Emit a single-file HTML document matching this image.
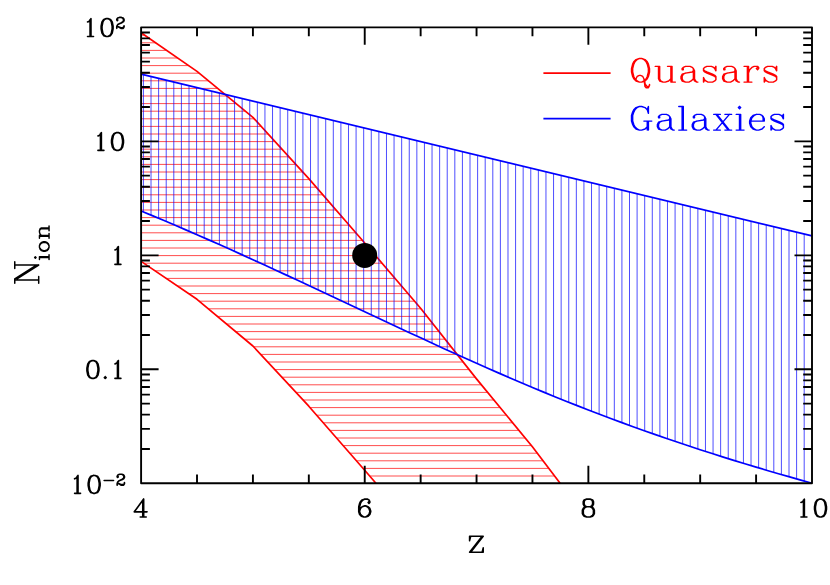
<!DOCTYPE html>
<html><head><meta charset="utf-8"><title>N_ion vs z</title>
<style>html,body{margin:0;padding:0;background:#fff;}body{width:830px;height:585px;overflow:hidden;}svg{display:block;}</style></head><body>
<svg width="830" height="585" viewBox="0 0 830 585">
<rect x="0" y="0" width="830" height="585" fill="#fff"/>
<defs>
<clipPath id="cr"><polygon points="141.1,32.7 197,71.4 252.9,117.4 308.8,178.6 364.7,243 420.6,308.2 476.5,378.9 532.4,446.7 560.1,483.3 375.95,483.3 364.7,470.2 308.8,406.2 252.9,346 197,299.3 141.1,261.4"/></clipPath>
<clipPath id="cb"><polygon points="141.1,74.1 812,235.9 812,483.2 800.82,480.09 789.64,476.93 778.45,473.72 767.27,470.45 756.09,467.14 744.91,463.77 733.73,460.34 722.55,456.85 711.37,453.31 700.18,449.7 689,446.03 677.82,442.3 666.64,438.5 655.46,434.64 644.27,430.71 633.09,426.71 621.91,422.64 610.73,418.5 599.55,414.29 588.37,410 577.19,405.64 566,401.2 554.82,396.69 543.64,392.11 532.46,387.46 521.28,382.75 510.1,377.98 498.91,373.14 487.73,368.25 476.55,363.3 465.37,358.3 454.19,353.24 443,348.15 431.82,343.01 420.64,337.84 409.46,332.65 398.28,327.43 387.1,322.2 375.91,316.95 364.73,311.7 353.55,306.45 342.37,301.2 331.19,295.95 320.01,290.72 308.82,285.5 297.64,280.29 286.46,275.11 275.28,269.94 264.1,264.81 252.92,259.7 241.74,254.63 230.55,249.59 219.37,244.59 208.19,239.64 197.01,234.73 185.83,229.87 174.64,225.06 163.46,220.31 152.28,215.63 141.1,211"/></clipPath>
</defs>
<g clip-path="url(#cr)" stroke="#ff0000" stroke-width="0.7" fill="none">
<path d="M141.1 35.2H812 M141.1 42.8H812 M141.1 50.4H812 M141.1 58H812 M141.1 65.6H812 M141.1 73.2H812 M141.1 80.8H812 M141.1 88.4H812 M141.1 96H812 M141.1 103.6H812 M141.1 111.2H812 M141.1 118.8H812 M141.1 126.4H812 M141.1 134H812 M141.1 141.6H812 M141.1 149.2H812 M141.1 156.8H812 M141.1 164.4H812 M141.1 172H812 M141.1 179.6H812 M141.1 187.2H812 M141.1 194.8H812 M141.1 202.4H812 M141.1 210H812 M141.1 217.6H812 M141.1 225.2H812 M141.1 232.8H812 M141.1 240.4H812 M141.1 248H812 M141.1 255.6H812 M141.1 263.2H812 M141.1 270.8H812 M141.1 278.4H812 M141.1 286H812 M141.1 293.6H812 M141.1 301.2H812 M141.1 308.8H812 M141.1 316.4H812 M141.1 324H812 M141.1 331.6H812 M141.1 339.2H812 M141.1 346.8H812 M141.1 354.4H812 M141.1 362H812 M141.1 369.6H812 M141.1 377.2H812 M141.1 384.8H812 M141.1 392.4H812 M141.1 400H812 M141.1 407.6H812 M141.1 415.2H812 M141.1 422.8H812 M141.1 430.4H812 M141.1 438H812 M141.1 445.6H812 M141.1 453.2H812 M141.1 460.8H812 M141.1 468.4H812 M141.1 476H812"/>
</g>
<g fill="none" stroke="#ff0000" stroke-width="1.7" stroke-linejoin="round">
<polyline points="141.1,32.7 197,71.4 252.9,117.4 308.8,178.6 364.7,243 420.6,308.2 476.5,378.9 532.4,446.7 560.1,483.3"/>
<polyline points="141.1,261.4 197,299.3 252.9,346 308.8,406.2 364.7,470.2 375.95,483.3"/>
</g>
<g clip-path="url(#cb)" stroke="#0000ff" stroke-width="0.7" fill="none">
<path d="M143.43 27.35V483.3 M151.02 27.35V483.3 M158.62 27.35V483.3 M166.21 27.35V483.3 M173.81 27.35V483.3 M181.4 27.35V483.3 M189 27.35V483.3 M196.59 27.35V483.3 M204.19 27.35V483.3 M211.78 27.35V483.3 M219.38 27.35V483.3 M226.97 27.35V483.3 M234.57 27.35V483.3 M242.16 27.35V483.3 M249.75 27.35V483.3 M257.35 27.35V483.3 M264.95 27.35V483.3 M272.54 27.35V483.3 M280.13 27.35V483.3 M287.73 27.35V483.3 M295.32 27.35V483.3 M302.92 27.35V483.3 M310.52 27.35V483.3 M318.11 27.35V483.3 M325.71 27.35V483.3 M333.3 27.35V483.3 M340.9 27.35V483.3 M348.49 27.35V483.3 M356.09 27.35V483.3 M363.68 27.35V483.3 M371.28 27.35V483.3 M378.87 27.35V483.3 M386.47 27.35V483.3 M394.06 27.35V483.3 M401.66 27.35V483.3 M409.25 27.35V483.3 M416.85 27.35V483.3 M424.44 27.35V483.3 M432.04 27.35V483.3 M439.63 27.35V483.3 M447.23 27.35V483.3 M454.82 27.35V483.3 M462.42 27.35V483.3 M470.01 27.35V483.3 M477.61 27.35V483.3 M485.2 27.35V483.3 M492.8 27.35V483.3 M500.39 27.35V483.3 M507.99 27.35V483.3 M515.58 27.35V483.3 M523.17 27.35V483.3 M530.77 27.35V483.3 M538.37 27.35V483.3 M545.96 27.35V483.3 M553.56 27.35V483.3 M561.15 27.35V483.3 M568.75 27.35V483.3 M576.34 27.35V483.3 M583.93 27.35V483.3 M591.53 27.35V483.3 M599.12 27.35V483.3 M606.72 27.35V483.3 M614.32 27.35V483.3 M621.91 27.35V483.3 M629.5 27.35V483.3 M637.1 27.35V483.3 M644.69 27.35V483.3 M652.29 27.35V483.3 M659.88 27.35V483.3 M667.48 27.35V483.3 M675.08 27.35V483.3 M682.67 27.35V483.3 M690.26 27.35V483.3 M697.86 27.35V483.3 M705.46 27.35V483.3 M713.05 27.35V483.3 M720.64 27.35V483.3 M728.24 27.35V483.3 M735.84 27.35V483.3 M743.43 27.35V483.3 M751.02 27.35V483.3 M758.62 27.35V483.3 M766.22 27.35V483.3 M773.81 27.35V483.3 M781.4 27.35V483.3 M789 27.35V483.3 M796.6 27.35V483.3 M804.19 27.35V483.3"/>
</g>
<g fill="none" stroke="#0000ff" stroke-width="1.7" stroke-linejoin="round">
<polyline points="141.1,74.1 812,235.9"/>
<polyline points="141.1,211 152.28,215.63 163.46,220.31 174.64,225.06 185.83,229.87 197.01,234.73 208.19,239.64 219.37,244.59 230.55,249.59 241.74,254.63 252.92,259.7 264.1,264.81 275.28,269.94 286.46,275.11 297.64,280.29 308.82,285.5 320.01,290.72 331.19,295.95 342.37,301.2 353.55,306.45 364.73,311.7 375.91,316.95 387.1,322.2 398.28,327.43 409.46,332.65 420.64,337.84 431.82,343.01 443,348.15 454.19,353.24 465.37,358.3 476.55,363.3 487.73,368.25 498.91,373.14 510.1,377.98 521.28,382.75 532.46,387.46 543.64,392.11 554.82,396.69 566,401.2 577.19,405.64 588.37,410 599.55,414.29 610.73,418.5 621.91,422.64 633.09,426.71 644.27,430.71 655.46,434.64 666.64,438.5 677.82,442.3 689,446.03 700.18,449.7 711.37,453.31 722.55,456.85 733.73,460.34 744.91,463.77 756.09,467.14 767.27,470.45 778.45,473.72 789.64,476.93 800.82,480.09 812,483.2"/>
</g>
<circle cx="364.7" cy="255.4" r="12.5" fill="#000"/>
<path d="M197.01 483.3v-8.8M197.01 27.35v8.8M252.92 483.3v-8.8M252.92 27.35v8.8M308.82 483.3v-8.8M308.82 27.35v8.8M364.73 483.3v-17.5M364.73 27.35v17.5M420.64 483.3v-8.8M420.64 27.35v8.8M476.55 483.3v-8.8M476.55 27.35v8.8M532.46 483.3v-8.8M532.46 27.35v8.8M588.37 483.3v-17.5M588.37 27.35v17.5M644.27 483.3v-8.8M644.27 27.35v8.8M700.18 483.3v-8.8M700.18 27.35v8.8M756.09 483.3v-8.8M756.09 27.35v8.8M141.1 448.99h8.8M812 448.99h-8.8M141.1 428.91h8.8M812 428.91h-8.8M141.1 414.67h8.8M812 414.67h-8.8M141.1 403.63h8.8M812 403.63h-8.8M141.1 394.6h8.8M812 394.6h-8.8M141.1 386.97h8.8M812 386.97h-8.8M141.1 380.36h8.8M812 380.36h-8.8M141.1 374.53h8.8M812 374.53h-8.8M141.1 369.31h17.5M812 369.31h-17.5M141.1 335h8.8M812 335h-8.8M141.1 314.93h8.8M812 314.93h-8.8M141.1 300.69h8.8M812 300.69h-8.8M141.1 289.64h8.8M812 289.64h-8.8M141.1 280.61h8.8M812 280.61h-8.8M141.1 272.98h8.8M812 272.98h-8.8M141.1 266.37h8.8M812 266.37h-8.8M141.1 260.54h8.8M812 260.54h-8.8M141.1 255.33h17.5M812 255.33h-17.5M141.1 221.01h8.8M812 221.01h-8.8M141.1 200.94h8.8M812 200.94h-8.8M141.1 186.7h8.8M812 186.7h-8.8M141.1 175.65h8.8M812 175.65h-8.8M141.1 166.63h8.8M812 166.63h-8.8M141.1 158.99h8.8M812 158.99h-8.8M141.1 152.38h8.8M812 152.38h-8.8M141.1 146.55h8.8M812 146.55h-8.8M141.1 141.34h17.5M812 141.34h-17.5M141.1 107.02h8.8M812 107.02h-8.8M141.1 86.95h8.8M812 86.95h-8.8M141.1 72.71h8.8M812 72.71h-8.8M141.1 61.66h8.8M812 61.66h-8.8M141.1 52.64h8.8M812 52.64h-8.8M141.1 45.01h8.8M812 45.01h-8.8M141.1 38.4h8.8M812 38.4h-8.8M141.1 32.57h8.8M812 32.57h-8.8" stroke="#000" stroke-width="1.9" fill="none"/>
<rect x="141.1" y="27.35" width="670.9" height="455.95" fill="none" stroke="#000" stroke-width="1.9" stroke-linejoin="round"/>
<path d="M543.4 73.1H610.6" stroke="#ff0000" stroke-width="1.8"/>
<path d="M543.4 118.7H610.6" stroke="#0000ff" stroke-width="1.8"/>
<path d="M639.4 58.47L636.02 59.6L633.77 61.85L632.65 64.1L631.52 68.6L631.52 71.97L632.65 76.47L633.77 78.72L636.02 80.97L639.4 82.1L641.65 82.1L645.02 80.97L647.27 78.72L648.4 76.47L649.52 71.97L649.52 68.6L648.4 64.1L647.27 61.85L645.02 59.6L641.65 58.47L639.4 58.47M639.4 58.47L637.15 59.6L634.9 61.85L633.77 64.1L632.65 68.6L632.65 71.97L633.77 76.47L634.9 78.72L637.15 80.97L639.4 82.1M641.65 82.1L643.9 80.97L646.15 78.72L647.27 76.47L648.4 71.97L648.4 68.6L647.27 64.1L646.15 61.85L643.9 59.6L641.65 58.47M636.02 79.85L636.02 78.72L637.15 76.47L639.4 75.35L640.52 75.35L642.77 76.47L643.9 78.72L645.02 86.6L646.15 87.72L648.4 87.72L649.52 85.47L649.52 84.35M643.9 78.72L645.02 83.22L646.15 85.47L647.27 86.6L648.4 86.6L649.52 85.47M658.52 66.35L658.52 78.72L659.65 80.97L663.02 82.1L665.27 82.1L668.65 80.97L670.9 78.72M659.65 66.35L659.65 78.72L660.77 80.97L663.02 82.1M670.9 66.35L670.9 82.1M672.02 66.35L672.02 82.1M655.15 66.35L659.65 66.35M667.52 66.35L672.02 66.35M670.9 82.1L675.4 82.1M683.27 68.6L683.27 69.72L682.15 69.72L682.15 68.6L683.27 67.47L685.52 66.35L690.02 66.35L692.27 67.47L693.4 68.6L694.52 70.85L694.52 78.72L695.65 80.97L696.77 82.1M693.4 68.6L693.4 78.72L694.52 80.97L696.77 82.1L697.9 82.1M693.4 70.85L692.27 71.97L685.52 73.1L682.15 74.22L681.02 76.47L681.02 78.72L682.15 80.97L685.52 82.1L688.9 82.1L691.15 80.97L693.4 78.72M685.52 73.1L683.27 74.22L682.15 76.47L682.15 78.72L683.27 80.97L685.52 82.1M714.77 68.6L715.9 66.35L715.9 70.85L714.77 68.6L713.65 67.47L711.4 66.35L706.9 66.35L704.65 67.47L703.52 68.6L703.52 70.85L704.65 71.97L706.9 73.1L712.52 75.35L714.77 76.47L715.9 77.6M703.52 69.72L704.65 70.85L706.9 71.97L712.52 74.22L714.77 75.35L715.9 76.47L715.9 79.85L714.77 80.97L712.52 82.1L708.02 82.1L705.77 80.97L704.65 79.85L703.52 77.6L703.52 82.1L704.65 79.85M724.9 68.6L724.9 69.72L723.77 69.72L723.77 68.6L724.9 67.47L727.15 66.35L731.65 66.35L733.9 67.47L735.02 68.6L736.15 70.85L736.15 78.72L737.27 80.97L738.4 82.1M735.02 68.6L735.02 78.72L736.15 80.97L738.4 82.1L739.52 82.1M735.02 70.85L733.9 71.97L727.15 73.1L723.77 74.22L722.65 76.47L722.65 78.72L723.77 80.97L727.15 82.1L730.52 82.1L732.77 80.97L735.02 78.72M727.15 73.1L724.9 74.22L723.77 76.47L723.77 78.72L724.9 80.97L727.15 82.1M747.4 66.35L747.4 82.1M748.52 66.35L748.52 82.1M748.52 73.1L749.65 69.72L751.9 67.47L754.15 66.35L757.52 66.35L758.65 67.47L758.65 68.6L757.52 69.72L756.4 68.6L757.52 67.47M744.02 66.35L748.52 66.35M744.02 82.1L751.9 82.1M775.52 68.6L776.65 66.35L776.65 70.85L775.52 68.6L774.4 67.47L772.15 66.35L767.65 66.35L765.4 67.47L764.27 68.6L764.27 70.85L765.4 71.97L767.65 73.1L773.27 75.35L775.52 76.47L776.65 77.6M764.27 69.72L765.4 70.85L767.65 71.97L773.27 74.22L775.52 75.35L776.65 76.47L776.65 79.85L775.52 80.97L773.27 82.1L768.77 82.1L766.52 80.97L765.4 79.85L764.27 77.6L764.27 82.1L765.4 79.85" fill="none" stroke="#ff0000" stroke-width="1.45" stroke-linecap="round" stroke-linejoin="round"/>
<path d="M647.27 109.85L648.4 113.22L648.4 106.47L647.27 109.85L645.02 107.6L641.65 106.47L639.4 106.47L636.02 107.6L633.77 109.85L632.65 112.1L631.52 115.47L631.52 121.1L632.65 124.47L633.77 126.72L636.02 128.97L639.4 130.1L641.65 130.1L645.02 128.97L647.27 126.72M639.4 106.47L637.15 107.6L634.9 109.85L633.77 112.1L632.65 115.47L632.65 121.1L633.77 124.47L634.9 126.72L637.15 128.97L639.4 130.1M647.27 121.1L647.27 130.1M648.4 121.1L648.4 130.1M643.9 121.1L651.77 121.1M659.65 116.6L659.65 117.72L658.52 117.72L658.52 116.6L659.65 115.47L661.9 114.35L666.4 114.35L668.65 115.47L669.77 116.6L670.9 118.85L670.9 126.72L672.02 128.97L673.15 130.1M669.77 116.6L669.77 126.72L670.9 128.97L673.15 130.1L674.27 130.1M669.77 118.85L668.65 119.97L661.9 121.1L658.52 122.22L657.4 124.47L657.4 126.72L658.52 128.97L661.9 130.1L665.27 130.1L667.52 128.97L669.77 126.72M661.9 121.1L659.65 122.22L658.52 124.47L658.52 126.72L659.65 128.97L661.9 130.1M682.15 106.47L682.15 130.1M683.27 106.47L683.27 130.1M678.77 106.47L683.27 106.47M678.77 130.1L686.65 130.1M694.52 116.6L694.52 117.72L693.4 117.72L693.4 116.6L694.52 115.47L696.77 114.35L701.27 114.35L703.52 115.47L704.65 116.6L705.77 118.85L705.77 126.72L706.9 128.97L708.02 130.1M704.65 116.6L704.65 126.72L705.77 128.97L708.02 130.1L709.15 130.1M704.65 118.85L703.52 119.97L696.77 121.1L693.4 122.22L692.27 124.47L692.27 126.72L693.4 128.97L696.77 130.1L700.15 130.1L702.4 128.97L704.65 126.72M696.77 121.1L694.52 122.22L693.4 124.47L693.4 126.72L694.52 128.97L696.77 130.1M715.9 114.35L728.27 130.1M717.02 114.35L729.4 130.1M729.4 114.35L715.9 130.1M713.65 114.35L720.4 114.35M724.9 114.35L731.65 114.35M713.65 130.1L720.4 130.1M724.9 130.1L731.65 130.1M739.52 106.47L738.4 107.6L739.52 108.72L740.65 107.6L739.52 106.47M739.52 114.35L739.52 130.1M740.65 114.35L740.65 130.1M736.15 114.35L740.65 114.35M736.15 130.1L744.02 130.1M750.77 121.1L764.27 121.1L764.27 118.85L763.15 116.6L762.02 115.47L759.77 114.35L756.4 114.35L753.02 115.47L750.77 117.72L749.65 121.1L749.65 123.35L750.77 126.72L753.02 128.97L756.4 130.1L758.65 130.1L762.02 128.97L764.27 126.72M763.15 121.1L763.15 117.72L762.02 115.47M756.4 114.35L754.15 115.47L751.9 117.72L750.77 121.1L750.77 123.35L751.9 126.72L754.15 128.97L756.4 130.1M782.27 116.6L783.4 114.35L783.4 118.85L782.27 116.6L781.15 115.47L778.9 114.35L774.4 114.35L772.15 115.47L771.02 116.6L771.02 118.85L772.15 119.97L774.4 121.1L780.02 123.35L782.27 124.47L783.4 125.6M771.02 117.72L772.15 118.85L774.4 119.97L780.02 122.22L782.27 123.35L783.4 124.47L783.4 127.85L782.27 128.97L780.02 130.1L775.52 130.1L773.27 128.97L772.15 127.85L771.02 125.6L771.02 130.1L772.15 127.85" fill="none" stroke="#0000ff" stroke-width="1.45" stroke-linecap="round" stroke-linejoin="round"/>
<path d="M117.28 19.51L117.8 20.03L117.28 20.55L116.76 20.03L116.76 19.51L117.28 18.47L117.8 17.95L119.36 17.43L121.44 17.43L123 17.95L123.52 18.47L124.04 19.51L124.04 20.55L123.52 21.59L121.96 22.63L119.36 23.67L118.32 24.19L117.28 25.23L116.76 26.79L116.76 28.35M121.44 17.43L122.48 17.95L123 18.47L123.52 19.51L123.52 20.55L123 21.59L121.44 22.63L119.36 23.67M116.76 27.31L117.28 26.79L118.32 26.79L120.92 27.83L122.48 27.83L123.52 27.31L124.04 26.79M118.32 26.79L120.92 28.35L123 28.35L123.52 27.83L124.04 26.79L124.04 25.75M87.55 22L89.25 21.15L90.95 18.6L90.95 36.45M90.1 19.45L90.1 36.45M87.55 36.45L93.5 36.45M106.25 18.6L103.7 19.45L102 22L101.15 26.25L101.15 28.8L102 33.05L103.7 35.6L106.25 36.45L107.95 36.45L110.5 35.6L112.2 33.05L113.05 28.8L113.05 26.25L112.2 22L110.5 19.45L107.95 18.6L106.25 18.6M106.25 18.6L104.55 19.45L103.7 20.3L102.85 22L102 26.25L102 28.8L102.85 33.05L103.7 34.75L104.55 35.6L106.25 36.45M107.95 36.45L109.65 35.6L110.5 34.75L111.35 33.05L112.2 28.8L112.2 26.25L111.35 22L110.5 20.3L109.65 19.45L107.95 18.6M97.95 135.99L99.65 135.14L101.35 132.59L101.35 150.44M100.5 133.44L100.5 150.44M97.95 150.44L103.9 150.44M116.65 132.59L114.1 133.44L112.4 135.99L111.55 140.24L111.55 142.79L112.4 147.04L114.1 149.59L116.65 150.44L118.35 150.44L120.9 149.59L122.6 147.04L123.45 142.79L123.45 140.24L122.6 135.99L120.9 133.44L118.35 132.59L116.65 132.59M116.65 132.59L114.95 133.44L114.1 134.29L113.25 135.99L112.4 140.24L112.4 142.79L113.25 147.04L114.1 148.74L114.95 149.59L116.65 150.44M118.35 150.44L120.05 149.59L120.9 148.74L121.75 147.04L122.6 142.79L122.6 140.24L121.75 135.99L120.9 134.29L120.05 133.44L118.35 132.59M114.95 249.98L116.65 249.12L118.35 246.58L118.35 264.43M117.5 247.43L117.5 264.43M114.95 264.43L120.9 264.43M92.05 360.56L89.5 361.41L87.8 363.96L86.95 368.21L86.95 370.76L87.8 375.01L89.5 377.56L92.05 378.41L93.75 378.41L96.3 377.56L98 375.01L98.85 370.76L98.85 368.21L98 363.96L96.3 361.41L93.75 360.56L92.05 360.56M92.05 360.56L90.35 361.41L89.5 362.26L88.65 363.96L87.8 368.21L87.8 370.76L88.65 375.01L89.5 376.71L90.35 377.56L92.05 378.41M93.75 378.41L95.45 377.56L96.3 376.71L97.15 375.01L98 370.76L98 368.21L97.15 363.96L96.3 362.26L95.45 361.41L93.75 360.56M105.25 376.71L104.4 377.56L105.25 378.41L106.1 377.56L105.25 376.71M114.95 363.96L116.65 363.11L118.35 360.56L118.35 378.41M117.5 361.41L117.5 378.41M114.95 378.41L120.9 378.41M104.16 480.52L113.52 480.52M117.68 476.36L118.2 476.88L117.68 477.4L117.16 476.88L117.16 476.36L117.68 475.32L118.2 474.8L119.76 474.28L121.84 474.28L123.4 474.8L123.92 475.32L124.44 476.36L124.44 477.4L123.92 478.44L122.36 479.48L119.76 480.52L118.72 481.04L117.68 482.08L117.16 483.64L117.16 485.2M121.84 474.28L122.88 474.8L123.4 475.32L123.92 476.36L123.92 477.4L123.4 478.44L121.84 479.48L119.76 480.52M117.16 484.16L117.68 483.64L118.72 483.64L121.32 484.68L122.88 484.68L123.92 484.16L124.44 483.64M118.72 483.64L121.32 485.2L123.4 485.2L123.92 484.68L124.44 483.64L124.44 482.6M74.6 478.85L76.3 478L78 475.45L78 493.3M77.15 476.3L77.15 493.3M74.6 493.3L80.55 493.3M93.3 475.45L90.75 476.3L89.05 478.85L88.2 483.1L88.2 485.65L89.05 489.9L90.75 492.45L93.3 493.3L95 493.3L97.55 492.45L99.25 489.9L100.1 485.65L100.1 483.1L99.25 478.85L97.55 476.3L95 475.45L93.3 475.45M93.3 475.45L91.6 476.3L90.75 477.15L89.9 478.85L89.05 483.1L89.05 485.65L89.9 489.9L90.75 491.6L91.6 492.45L93.3 493.3M95 493.3L96.7 492.45L97.55 491.6L98.4 489.9L99.25 485.65L99.25 483.1L98.4 478.85L97.55 477.15L96.7 476.3L95 475.45M142.8 500.8L142.8 516.95M143.65 499.1L143.65 516.95M143.65 499.1L134.3 511.85L147.05 511.85M140.25 516.95L146.2 516.95M368.98 501.65L368.13 502.5L368.98 503.35L369.83 502.5L369.83 501.65L368.98 499.95L367.28 499.1L364.73 499.1L362.18 499.95L360.48 501.65L359.63 503.35L358.78 506.75L358.78 511.85L359.63 514.4L361.33 516.1L363.88 516.95L365.58 516.95L368.13 516.1L369.83 514.4L370.68 511.85L370.68 511L369.83 508.45L368.13 506.75L365.58 505.9L364.73 505.9L362.18 506.75L360.48 508.45L359.63 511M364.73 499.1L363.03 499.95L361.33 501.65L360.48 503.35L359.63 506.75L359.63 511.85L360.48 514.4L362.18 516.1L363.88 516.95M365.58 516.95L367.28 516.1L368.98 514.4L369.83 511.85L369.83 511L368.98 508.45L367.28 506.75L365.58 505.9M586.67 499.1L584.12 499.95L583.27 501.65L583.27 504.2L584.12 505.9L586.67 506.75L590.07 506.75L592.62 505.9L593.47 504.2L593.47 501.65L592.62 499.95L590.07 499.1L586.67 499.1M586.67 499.1L584.97 499.95L584.12 501.65L584.12 504.2L584.97 505.9L586.67 506.75M590.07 506.75L591.77 505.9L592.62 504.2L592.62 501.65L591.77 499.95L590.07 499.1M586.67 506.75L584.12 507.6L583.27 508.45L582.42 510.15L582.42 513.55L583.27 515.25L584.12 516.1L586.67 516.95L590.07 516.95L592.62 516.1L593.47 515.25L594.32 513.55L594.32 510.15L593.47 508.45L592.62 507.6L590.07 506.75M586.67 506.75L584.97 507.6L584.12 508.45L583.27 510.15L583.27 513.55L584.12 515.25L584.97 516.1L586.67 516.95M590.07 516.95L591.77 516.1L592.62 515.25L593.47 513.55L593.47 510.15L592.62 508.45L591.77 507.6L590.07 506.75M800.95 502.5L802.65 501.65L804.35 499.1L804.35 516.95M803.5 499.95L803.5 516.95M800.95 516.95L806.9 516.95M819.65 499.1L817.1 499.95L815.4 502.5L814.55 506.75L814.55 509.3L815.4 513.55L817.1 516.1L819.65 516.95L821.35 516.95L823.9 516.1L825.6 513.55L826.45 509.3L826.45 506.75L825.6 502.5L823.9 499.95L821.35 499.1L819.65 499.1M819.65 499.1L817.95 499.95L817.1 500.8L816.25 502.5L815.4 506.75L815.4 509.3L816.25 513.55L817.1 515.25L817.95 516.1L819.65 516.95M821.35 516.95L823.05 516.1L823.9 515.25L824.75 513.55L825.6 509.3L825.6 506.75L824.75 502.5L823.9 500.8L823.05 499.95L821.35 499.1" fill="none" stroke="#000" stroke-width="1.65" stroke-linecap="round" stroke-linejoin="round"/>
<path d="M482.1 536.24L469.56 552.2M483.24 536.24L470.7 552.2M470.7 536.24L469.56 540.8L469.56 536.24L483.24 536.24M469.56 552.2L483.24 552.2L483.24 547.64L482.1 552.2" fill="none" stroke="#000" stroke-width="1.5" stroke-linecap="round" stroke-linejoin="round"/>
<g transform="translate(38.7 285.6) rotate(-90)">
<path d="M5.7 -23.94L5.7 0M6.84 -23.94L20.52 -2.28M6.84 -21.66L20.52 0M20.52 -23.94L20.52 0M2.28 -23.94L6.84 -23.94M17.1 -23.94L23.94 -23.94M2.28 0L9.12 0" fill="none" stroke="#000" stroke-width="1.5" stroke-linecap="round" stroke-linejoin="round"/>
<path d="M28.13 -4.04L27.44 -3.35L28.13 -2.67L28.81 -3.35L28.13 -4.04M28.13 0.76L28.13 10.35M28.81 0.76L28.81 10.35M26.07 0.76L28.81 0.76M26.07 10.35L30.87 10.35M38.4 0.76L36.35 1.44L34.98 2.81L34.29 4.87L34.29 6.24L34.98 8.29L36.35 9.66L38.4 10.35L39.77 10.35L41.83 9.66L43.2 8.29L43.88 6.24L43.88 4.87L43.2 2.81L41.83 1.44L39.77 0.76L38.4 0.76M38.4 0.76L37.03 1.44L35.66 2.81L34.98 4.87L34.98 6.24L35.66 8.29L37.03 9.66L38.4 10.35M39.77 10.35L41.14 9.66L42.51 8.29L43.2 6.24L43.2 4.87L42.51 2.81L41.14 1.44L39.77 0.76M49.36 0.76L49.36 10.35M50.05 0.76L50.05 10.35M50.05 2.81L51.42 1.44L53.47 0.76L54.84 0.76L56.9 1.44L57.58 2.81L57.58 10.35M54.84 0.76L56.21 1.44L56.9 2.81L56.9 10.35M47.31 0.76L50.05 0.76M47.31 10.35L52.1 10.35M54.84 10.35L59.64 10.35" fill="none" stroke="#000" stroke-width="1.45" stroke-linecap="round" stroke-linejoin="round"/>
</g>
</svg></body></html>
